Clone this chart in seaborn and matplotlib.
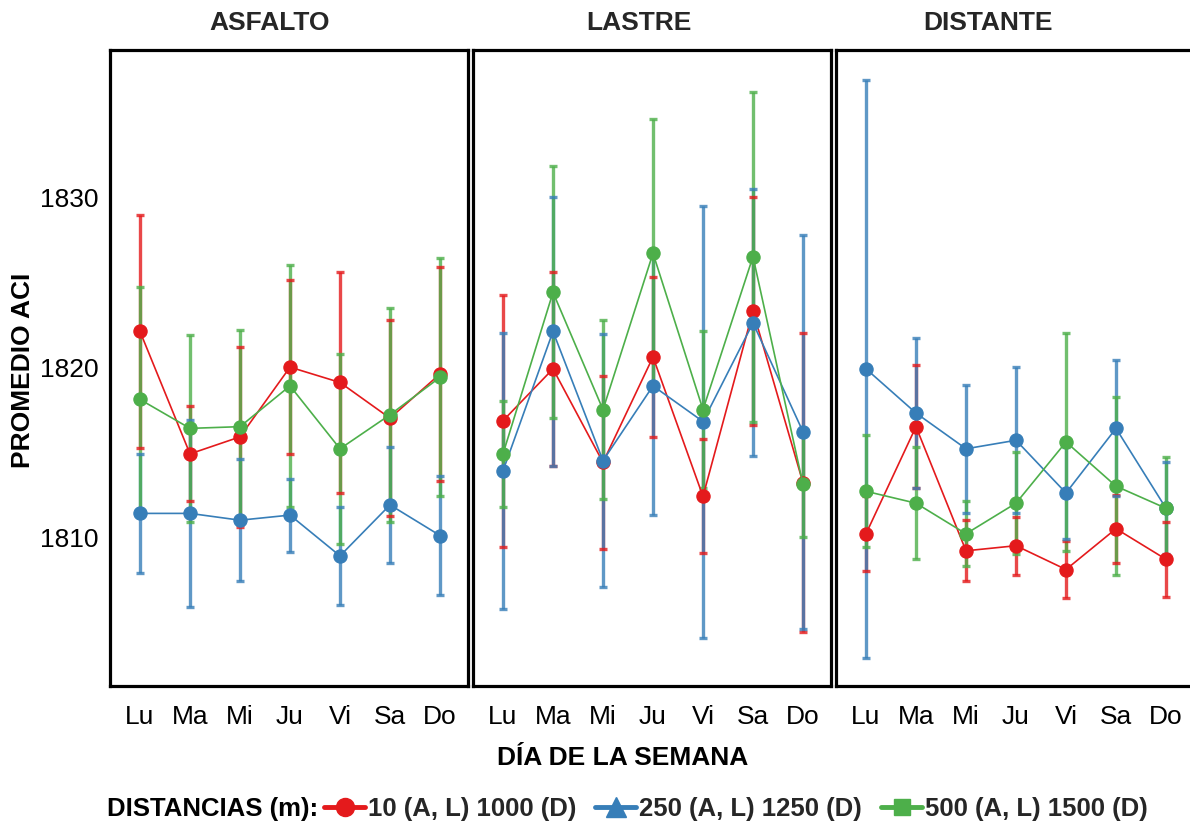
import numpy as np
import pandas as pd
import matplotlib
matplotlib.use("Agg")
import matplotlib.pyplot as plt
from matplotlib.lines import Line2D
from matplotlib import font_manager
import seaborn as sns

# ---------------- data ----------------
days = ['Lu', 'Ma', 'Mi', 'Ju', 'Vi', 'Sa', 'Do']
panels = ['ASFALTO', 'LASTRE', 'DISTANTE']
series = ['10 (A, L) 1000 (D)', '250 (A, L) 1250 (D)', '500 (A, L) 1500 (D)']

asfalto_10 = [1822.1, 1814.9, 1815.9, 1820.0, 1819.1, 1817.0, 1819.6]
asfalto_10_err = [6.85, 2.8, 5.3, 5.1, 6.5, 5.75, 6.3]
asfalto_250 = [1811.4, 1811.4, 1811.0, 1811.3, 1808.9, 1811.9, 1810.1]
asfalto_250_err = [3.5, 5.5, 3.6, 2.15, 2.9, 3.4, 3.5]
asfalto_500 = [1818.1, 1816.4, 1816.5, 1818.9, 1815.2, 1817.2, 1819.4]
asfalto_500_err = [6.6, 5.5, 5.7, 7.1, 5.6, 6.3, 7.0]

lastre_10 = [1816.85, 1819.9, 1814.4, 1820.6, 1812.4, 1823.3, 1813.2]
lastre_10_err = [7.4, 5.7, 5.1, 4.7, 3.35, 6.7, 8.8]
lastre_250 = [1813.9, 1822.1, 1814.5, 1818.9, 1816.8, 1822.6, 1816.2]
lastre_250_err = [8.1, 7.9, 7.45, 7.6, 12.7, 7.85, 11.6]
lastre_500 = [1814.9, 1824.4, 1817.5, 1826.7, 1817.5, 1826.5, 1813.1]
lastre_500_err = [3.1, 7.4, 5.25, 7.9, 4.6, 9.7, 3.1]

distante_1000 = [1810.2, 1816.5, 1809.2, 1809.5, 1808.1, 1810.5, 1808.7]
distante_1000_err = [2.2, 3.6, 1.8, 1.7, 1.7, 2.0, 2.2]
distante_1250 = [1819.9, 1817.3, 1815.2, 1815.7, 1812.6, 1816.4, 1811.7]
distante_1250_err = [17.0, 4.4, 3.75, 4.3, 2.7, 4.0, 2.7]
distante_1500 = [1812.7, 1812.0, 1810.2, 1812.0, 1815.6, 1813.0, 1811.7]
distante_1500_err = [3.3, 3.3, 1.9, 3.0, 6.4, 5.25, 3.0]

yticks = [1810, 1820, 1830]
colors = ['#E41A1C', '#377EB8', '#4DAF4A']

panel_data = {
    'ASFALTO': [(asfalto_10, asfalto_10_err), (asfalto_250, asfalto_250_err), (asfalto_500, asfalto_500_err)],
    'LASTRE': [(lastre_10, lastre_10_err), (lastre_250, lastre_250_err), (lastre_500, lastre_500_err)],
    'DISTANTE': [(distante_1000, distante_1000_err), (distante_1250, distante_1250_err), (distante_1500, distante_1500_err)],
}

# ---------------- style ----------------
sns.set_style('white')
available = {f.name for f in font_manager.fontManager.ttflist}
base_font = 'Liberation Sans' if 'Liberation Sans' in available else 'DejaVu Sans'
narrow_font = 'Liberation Sans Narrow' if 'Liberation Sans Narrow' in available else base_font
plt.rcParams['font.family'] = [base_font, 'DejaVu Sans']

W, H = 1190, 827
fig = plt.figure(figsize=(W / 100, H / 100), dpi=100)

def px_axes(left, top, right, bottom):
    return fig.add_axes([left / W, 1 - bottom / H, (right - left) / W, (bottom - top) / H])

lefts = [110, 473, 836]
axes = [px_axes(l, 50, l + 358, 686) for l in lefts]
palette = dict(zip(series, colors))

for ax, pname in zip(axes, panels):
    rows = []
    for sname, (means, errs) in zip(series, panel_data[pname]):
        for d, m in zip(days, means):
            rows.append({'dia': d, 'media': m, 'dist': sname})
    df = pd.DataFrame(rows)
    xpos = np.arange(len(days))
    for (means, errs), c in zip(panel_data[pname], colors):
        ax.errorbar(xpos, means, yerr=errs, fmt='none', ecolor=c, elinewidth=2.4,
                    capsize=3.2, capthick=2.4, alpha=0.8, zorder=2)
    sns.pointplot(data=df, x='dia', y='media', hue='dist', order=days, hue_order=series,
                  palette=palette, errorbar=None, markers='o', linestyles='-',
                  dodge=False, legend=False, ax=ax, markersize=9.5, linewidth=1.2)
    for line in ax.lines:
        line.set_zorder(3)
    ax.set_xlim(-0.6, 6.56)
    ax.set_ylim(1801.25, 1838.65)
    ax.set_yticks(yticks)
    ax.set_xlabel('')
    ax.set_ylabel('')
    for sp in ax.spines.values():
        sp.set_visible(True)
        sp.set_color('black')
        sp.set_linewidth(2.3)
    ax.tick_params(axis='both', length=0)
    ax.tick_params(axis='x', pad=14)
    ax.tick_params(axis='y', pad=8)
    for lab in ax.get_xticklabels() + ax.get_yticklabels():
        lab.set_fontfamily(narrow_font)
        lab.set_fontsize(19)
        lab.set_color('black')
    if ax is not axes[0]:
        ax.set_yticklabels([])
    ax.grid(False)

# titles
title_x = [270, 638.5, 988]
for tx, pname in zip(title_x, panels):
    fig.text(tx / W, 1 - 23 / H, pname, ha='center', va='center', fontsize=19,
             fontweight='bold', color='#262626')

fig.text(23 / W, 1 - 370 / H, 'PROMEDIO ACI', rotation=90, ha='center', va='center',
         fontsize=19, fontweight='bold', color='black')
fig.text(622.5 / W, 1 - 758 / H, 'DÍA DE LA SEMANA', ha='center', va='center',
         fontsize=19, fontweight='bold', color='black')

# legend
fig.text(107 / W, 1 - 809 / H, 'DISTANCIAS (m):', ha='left', va='center',
         fontsize=18.5, fontweight='bold', color='black')
handles = [
    Line2D([], [], color=colors[0], marker='o', markersize=13, linewidth=3.5),
    Line2D([], [], color=colors[1], marker='^', markersize=15, linewidth=3.5),
    Line2D([], [], color=colors[2], marker='s', markersize=11, linewidth=3.5),
]
leg = fig.legend(handles, series, loc='center left', bbox_to_anchor=(324 / W, 1 - 809 / H),
                 ncol=3, frameon=False, handlelength=1.6, handletextpad=0.1,
                 columnspacing=0.75, borderpad=0, borderaxespad=0,
                 prop={'weight': 'bold', 'size': 18.5})

fig.savefig('out.png', dpi=100)
